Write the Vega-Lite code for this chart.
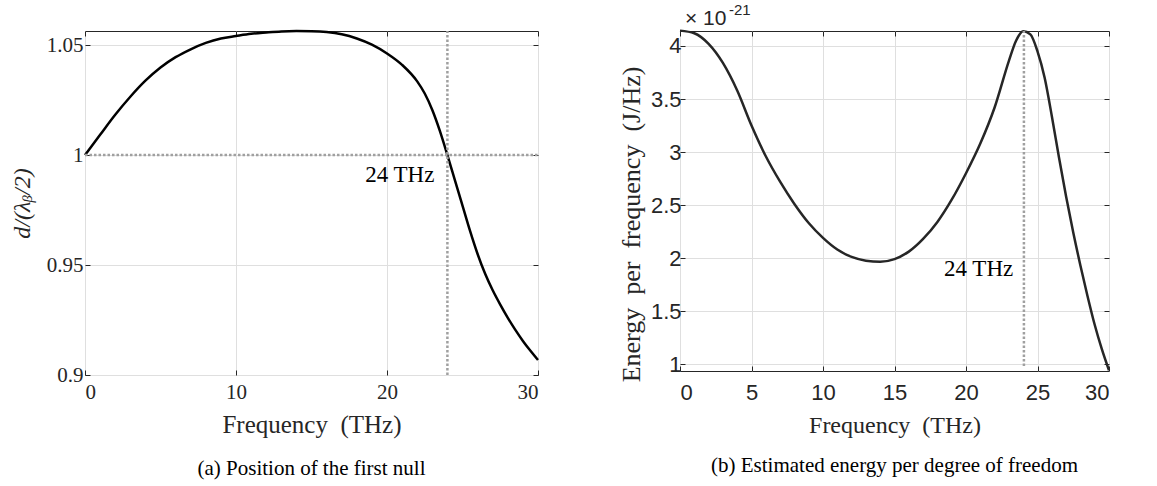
{
  "$schema": "https://vega.github.io/schema/vega-lite/v6.json",
  "background": "white",
  "padding": {"left": 9, "top": 2, "right": 5, "bottom": 5},
  "spacing": 73,
  "align": {"row": "all", "column": "none"},
  "config": {
    "view": {"stroke": "#262626", "strokeWidth": 1},
    "axis": {
      "gridColor": "#dfdfdf",
      "gridWidth": 1,
      "domain": false,
      "tickColor": "#262626",
      "tickSize": -5,
      "labelColor": "#262626",
      "titleColor": "#262626",
      "titleFontWeight": "normal",
      "labelExpr": "toString(datum.value)"
    }
  },
  "datasets": {
    "curveA": [
      {"f": 0, "v": 1.0}, {"f": 1, "v": 1.0092}, {"f": 2, "v": 1.0183}, {"f": 3, "v": 1.0265},
      {"f": 4, "v": 1.0338}, {"f": 5, "v": 1.0398}, {"f": 6, "v": 1.0445}, {"f": 7, "v": 1.0481},
      {"f": 8, "v": 1.051}, {"f": 9, "v": 1.053}, {"f": 10, "v": 1.0541}, {"f": 11, "v": 1.0551},
      {"f": 12, "v": 1.0557}, {"f": 13, "v": 1.0562}, {"f": 14, "v": 1.0564}, {"f": 15, "v": 1.0563},
      {"f": 16, "v": 1.0559}, {"f": 17, "v": 1.0549}, {"f": 18, "v": 1.053}, {"f": 19, "v": 1.0502},
      {"f": 20, "v": 1.0462}, {"f": 21, "v": 1.041}, {"f": 22, "v": 1.0335}, {"f": 22.5, "v": 1.028},
      {"f": 23, "v": 1.0205}, {"f": 23.5, "v": 1.011}, {"f": 24, "v": 1.0}, {"f": 24.5, "v": 0.9885},
      {"f": 25, "v": 0.977}, {"f": 25.5, "v": 0.9655}, {"f": 26, "v": 0.955}, {"f": 26.5, "v": 0.946},
      {"f": 27, "v": 0.9385}, {"f": 27.5, "v": 0.932}, {"f": 28, "v": 0.926}, {"f": 28.5, "v": 0.9205},
      {"f": 29, "v": 0.9155}, {"f": 29.5, "v": 0.911}, {"f": 30, "v": 0.9068}
    ],
    "curveB": [
      {"f": 0, "v": 4.145}, {"f": 1, "v": 4.12}, {"f": 2, "v": 4.02}, {"f": 3, "v": 3.84},
      {"f": 4, "v": 3.58}, {"f": 5, "v": 3.25}, {"f": 6, "v": 2.96}, {"f": 7, "v": 2.72},
      {"f": 8, "v": 2.51}, {"f": 9, "v": 2.33}, {"f": 10, "v": 2.19}, {"f": 11, "v": 2.08},
      {"f": 12, "v": 2.01}, {"f": 13, "v": 1.975}, {"f": 14, "v": 1.965}, {"f": 15, "v": 1.99},
      {"f": 16, "v": 2.06}, {"f": 17, "v": 2.18}, {"f": 18, "v": 2.34}, {"f": 19, "v": 2.55},
      {"f": 20, "v": 2.8}, {"f": 21, "v": 3.08}, {"f": 22, "v": 3.42}, {"f": 23, "v": 3.86},
      {"f": 23.5, "v": 4.05}, {"f": 24, "v": 4.14}, {"f": 24.5, "v": 4.11}, {"f": 25, "v": 3.95},
      {"f": 25.5, "v": 3.7}, {"f": 26, "v": 3.34}, {"f": 26.5, "v": 2.95}, {"f": 27, "v": 2.58},
      {"f": 27.5, "v": 2.24}, {"f": 28, "v": 1.93}, {"f": 28.5, "v": 1.64}, {"f": 29, "v": 1.37},
      {"f": 29.5, "v": 1.14}, {"f": 30, "v": 0.94}
    ]
  },
  "hconcat": [
    {
      "width": 453,
      "height": 344,
      "title": {"text": "(a) Position of the first null", "orient": "bottom", "font": "Liberation Serif", "fontSize": 21, "fontWeight": "normal", "color": "#000000", "offset": 21},
      "resolve": {"axis": {"x": "independent", "y": "independent"}},
      "layer": [
        {
          "data": {"name": "curveA"},
          "mark": {"type": "line", "color": "#000000", "strokeWidth": 2.5, "interpolate": "monotone"},
          "encoding": {
            "x": {"field": "f", "type": "quantitative", "scale": {"domain": [0, 30], "nice": false, "zero": false},
              "axis": {"values": [0, 10, 20, 30], "title": "Frequency\u2002(THz)", "grid": true, "orient": "bottom",
                "labelFont": "Liberation Serif", "labelFontSize": 21, "labelPadding": 11,
                "titleFont": "Liberation Serif", "titleFontSize": 25, "titlePadding": 10}},
            "y": {"field": "v", "type": "quantitative", "scale": {"domain": [0.9, 1.0564], "nice": false, "zero": false},
              "axis": {"values": [0.9, 0.95, 1, 1.05], "title": "d/(λᵦ/2)", "grid": true, "orient": "left",
                "labelFont": "Liberation Serif", "labelFontSize": 21, "labelPadding": 7,
                "titleFont": "Liberation Serif", "titleFontSize": 24, "titleFontStyle": "italic", "titlePadding": 12}}
          }
        },
        {
          "data": {"name": "curveA"},
          "mark": {"type": "line", "opacity": 0},
          "encoding": {
            "x": {"field": "f", "type": "quantitative", "axis": {"values": [0, 10, 20, 30], "orient": "top", "labels": false, "title": null, "grid": false}},
            "y": {"field": "v", "type": "quantitative", "axis": {"values": [0.9, 0.95, 1, 1.05], "orient": "right", "labels": false, "title": null, "grid": false}}
          }
        },
        {
          "data": {"values": [{"x1": 0, "x2": 30, "y1": 1, "y2": 1}, {"x1": 24, "x2": 24, "y1": 0.9, "y2": 1.0564}]},
          "mark": {"type": "rule", "color": "#a0a0a0", "strokeWidth": 2.5, "strokeDash": [2.5, 2]},
          "encoding": {
            "x": {"field": "x1", "type": "quantitative", "axis": null},
            "x2": {"field": "x2"},
            "y": {"field": "y1", "type": "quantitative", "axis": null},
            "y2": {"field": "y2"}
          }
        },
        {
          "data": {"values": [{"f": 24, "v": 1, "label": "24 THz"}]},
          "mark": {"type": "text", "align": "right", "baseline": "middle", "dx": -13, "dy": 20, "font": "Liberation Serif", "fontSize": 23, "color": "#000000"},
          "encoding": {
            "x": {"field": "f", "type": "quantitative", "axis": null},
            "y": {"field": "v", "type": "quantitative", "axis": null},
            "text": {"field": "label"}
          }
        }
      ]
    },
    {
      "width": 429,
      "height": 340,
      "title": {"text": "(b) Estimated energy per degree of freedom", "orient": "bottom", "font": "Liberation Serif", "fontSize": 21, "fontWeight": "normal", "color": "#000000", "offset": 18},
      "resolve": {"axis": {"x": "independent", "y": "independent"}},
      "layer": [
        {
          "data": {"name": "curveB"},
          "mark": {"type": "line", "color": "#262626", "strokeWidth": 2.5, "interpolate": "monotone"},
          "encoding": {
            "x": {"field": "f", "type": "quantitative", "scale": {"domain": [0, 30], "nice": false, "zero": false},
              "axis": {"values": [0, 5, 10, 15, 20, 25, 30], "title": "Frequency\u2002(THz)", "grid": true, "orient": "bottom",
                "labelFont": "Liberation Sans", "labelFontSize": 22, "labelPadding": 16,
                "titleFont": "Liberation Serif", "titleFontSize": 24, "titlePadding": 10}},
            "y": {"field": "v", "type": "quantitative", "scale": {"domain": [0.934, 4.1415], "nice": false, "zero": false},
              "axis": {"values": [1, 1.5, 2, 2.5, 3, 3.5, 4], "title": "Energy\u2002per\u2002frequency\u2002(J/Hz)", "grid": true, "orient": "left",
                "labelFont": "Liberation Sans", "labelFontSize": 22, "labelPadding": 4,
                "titleFont": "Liberation Serif", "titleFontSize": 26, "titlePadding": 6, "titleY": 193}}
          }
        },
        {
          "data": {"name": "curveB"},
          "mark": {"type": "line", "opacity": 0},
          "encoding": {
            "x": {"field": "f", "type": "quantitative", "axis": {"values": [0, 5, 10, 15, 20, 25, 30], "orient": "top", "labels": false, "title": null, "grid": false}},
            "y": {"field": "v", "type": "quantitative", "axis": {"values": [1, 1.5, 2, 2.5, 3, 3.5, 4], "orient": "right", "labels": false, "title": null, "grid": false}}
          }
        },
        {
          "data": {"values": [{"x1": 24.05, "y1": 0.98, "y2": 4.1415}]},
          "mark": {"type": "rule", "color": "#a0a0a0", "strokeWidth": 2.5, "strokeDash": [2.5, 2]},
          "encoding": {
            "x": {"field": "x1", "type": "quantitative", "axis": null},
            "y": {"field": "y1", "type": "quantitative", "axis": null},
            "y2": {"field": "y2"}
          }
        },
        {
          "data": {"values": [{"f": 24, "v": 1.9, "label": "24 THz"}]},
          "mark": {"type": "text", "align": "right", "baseline": "middle", "dx": -10, "font": "Liberation Serif", "fontSize": 23, "color": "#000000"},
          "encoding": {
            "x": {"field": "f", "type": "quantitative", "axis": null},
            "y": {"field": "v", "type": "quantitative", "axis": null},
            "text": {"field": "label"}
          }
        },
        {
          "data": {"values": [{"f": 0, "v": 4.1415, "label": "× 10"}]},
          "mark": {"type": "text", "align": "left", "baseline": "alphabetic", "dx": 5, "dy": -6, "font": "Liberation Sans", "fontSize": 21, "color": "#262626"},
          "encoding": {
            "x": {"field": "f", "type": "quantitative", "axis": null},
            "y": {"field": "v", "type": "quantitative", "axis": null},
            "text": {"field": "label"}
          }
        },
        {
          "data": {"values": [{"f": 0, "v": 4.1415, "label": "-21"}]},
          "mark": {"type": "text", "align": "left", "baseline": "alphabetic", "dx": 49, "dy": -16, "font": "Liberation Sans", "fontSize": 15, "color": "#262626"},
          "encoding": {
            "x": {"field": "f", "type": "quantitative", "axis": null},
            "y": {"field": "v", "type": "quantitative", "axis": null},
            "text": {"field": "label"}
          }
        }
      ]
    }
  ]
}
